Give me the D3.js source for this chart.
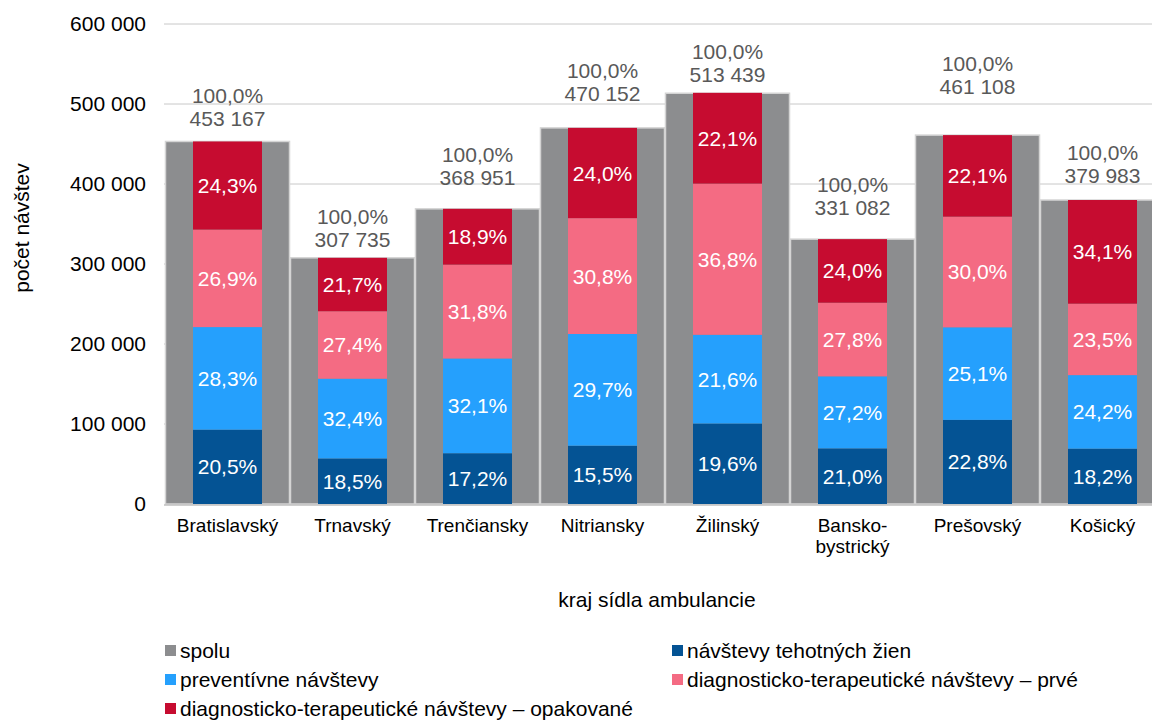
<!DOCTYPE html>
<html>
<head>
<meta charset="utf-8">
<script src="https://cdn.jsdelivr.net/npm/d3@7"></script>
<style>
  body { margin: 0; background: #fff; }
  svg { font-family: "Liberation Sans", Arial, sans-serif; }
</style>
</head>
<body>
<svg id="chart" width="1152" height="720"></svg>
<script>
// kraje (two-line labels split on \n)
const regions = ["Bratislavský", "Trnavský", "Trenčiansky", "Nitriansky", "Žilinský", "Bansko-\nbystrický", "Prešovský", "Košický"];
const totals = [453167, 307735, 368951, 470152, 513439, 331082, 461108, 379983];

// share of each visit type in % (bottom to top)
const pregnant = [20.5, 18.5, 17.2, 15.5, 19.6, 21.0, 22.8, 18.2];
const preventive = [28.3, 32.4, 32.1, 29.7, 21.6, 27.2, 25.1, 24.2];
const firstVisit = [26.9, 27.4, 31.8, 30.8, 36.8, 27.8, 30.0, 23.5];
const repeated = [24.3, 21.7, 18.9, 24.0, 22.1, 24.0, 22.1, 34.1];

const yTicks = [0, 100000, 200000, 300000, 400000, 500000, 600000];

const seriesNames = ["návštevy tehotných žien", "preventívne návštevy", "diagnosticko-terapeutické návštevy – prvé", "diagnosticko-terapeutické návštevy – opakované"];
const seriesColors = ["#045394", "#25a0fd", "#f46b83", "#c60c30"];
const grayColor = "#8c8d8f";

// total labels were placed by hand in the original, gap above bar top (px)
const labelLift = [15, 11, 24, 27, 11, 24, 41, 17];

const svg = d3.select("#chart");
const fmtNum = d => d3.format(",")(d).replace(/,/g, " ");
const fmtPct = d => d.toFixed(1).replace(".", ",") + "%";

const x = d3.scaleBand().domain(regions).range([165, 1165]).padding(0);
const y = d3.scaleLinear().domain([0, 600000]).range([504, 24]);

// gridlines
svg.append("g").selectAll("line").data(yTicks.slice(1)).enter().append("line")
  .attr("x1", 164).attr("x2", 1152)
  .attr("y1", d => y(d)).attr("y2", d => y(d))
  .style("stroke", "#c8c8c8").style("stroke-width", 1);

// y tick labels
svg.append("g").selectAll("text").data(yTicks).enter().append("text")
  .attr("x", 146).attr("y", d => y(d) + 7)
  .attr("text-anchor", "end")
  .style("font-size", "21px").style("fill", "#000")
  .text(d => d === 0 ? "0" : fmtNum(d));

// gray totals
svg.append("g").selectAll("rect").data(regions).enter().append("rect")
  .attr("x", d => x(d) + 0.5)
  .attr("width", x.bandwidth() - 1)
  .attr("y", (d, i) => y(totals[i]))
  .attr("height", (d, i) => y(0) - y(totals[i]))
  .style("fill", grayColor).style("stroke", "#d4d4d4").style("stroke-width", 1.5);

// stacked segments
const shares = [pregnant, preventive, firstVisit, repeated];
const innerW = 69;
const segs = [];
regions.forEach((r, i) => {
  let acc = 0;
  shares.forEach((s, k) => {
    const v = totals[i] * s[i] / 100;
    segs.push({ r, k, y0: acc, y1: acc + v, pct: s[i] });
    acc += v;
  });
});

svg.append("g").selectAll("rect").data(segs).enter().append("rect")
  .attr("x", d => x(d.r) + (x.bandwidth() - innerW) / 2)
  .attr("width", innerW)
  .attr("y", d => y(d.y1))
  .attr("height", d => y(d.y0) - y(d.y1))
  .style("fill", d => seriesColors[d.k]);

svg.append("g").selectAll("text").data(segs).enter().append("text")
  .attr("x", d => x(d.r) + x.bandwidth() / 2)
  .attr("y", d => (y(d.y0) + y(d.y1)) / 2 + 7.5)
  .attr("text-anchor", "middle")
  .style("font-size", "21px").style("fill", "#fff")
  .text(d => fmtPct(d.pct));

// total labels
const tl = svg.append("g").selectAll("text").data(regions).enter().append("text")
  .attr("text-anchor", "middle")
  .style("font-size", "21px").style("fill", "#595959");
tl.append("tspan")
  .attr("x", d => x(d) + x.bandwidth() / 2)
  .attr("y", (d, i) => y(totals[i]) - labelLift[i] - 23)
  .text("100,0%");
tl.append("tspan")
  .attr("x", d => x(d) + x.bandwidth() / 2)
  .attr("y", (d, i) => y(totals[i]) - labelLift[i])
  .text((d, i) => fmtNum(totals[i]));

// x axis line
svg.append("line")
  .attr("x1", 164).attr("x2", 1152).attr("y1", y(0) + 1).attr("y2", y(0) + 1)
  .style("stroke", "#bfbfbf").style("stroke-width", 1.5);

// category labels
const cl = svg.append("g").selectAll("text").data(regions).enter().append("text")
  .attr("text-anchor", "middle")
  .style("font-size", "19px").style("fill", "#000");
cl.each(function(d) {
  const lines = d.split("\n");
  const t = d3.select(this);
  lines.forEach((ln, j) => {
    t.append("tspan")
      .attr("x", x(d) + x.bandwidth() / 2)
      .attr("y", 532 + j * 21)
      .text(ln);
  });
});

// axis titles
svg.append("text")
  .attr("x", 657).attr("y", 607)
  .attr("text-anchor", "middle")
  .style("font-size", "21px").style("fill", "#000")
  .text("kraj sídla ambulancie");

svg.append("text")
  .attr("transform", "translate(29,228) rotate(-90)")
  .attr("text-anchor", "middle")
  .style("font-size", "21px").style("fill", "#000")
  .text("počet návštev");

// legend
const legendItems = [{ name: "spolu", color: grayColor }].concat(
  seriesNames.map((n, k) => ({ name: n, color: seriesColors[k] })));
const lg = svg.append("g").selectAll("g").data(legendItems).enter().append("g")
  .attr("transform", (d, i) => `translate(${i % 2 === 0 ? 165 : 672},${651 + Math.floor(i / 2) * 29})`);
lg.append("rect")
  .attr("x", 0).attr("y", -6).attr("width", 11).attr("height", 11)
  .style("fill", d => d.color);
lg.append("text")
  .attr("x", 15).attr("y", 7)
  .style("font-size", "21px").style("fill", "#000")
  .text(d => d.name);
</script>
</body>
</html>
